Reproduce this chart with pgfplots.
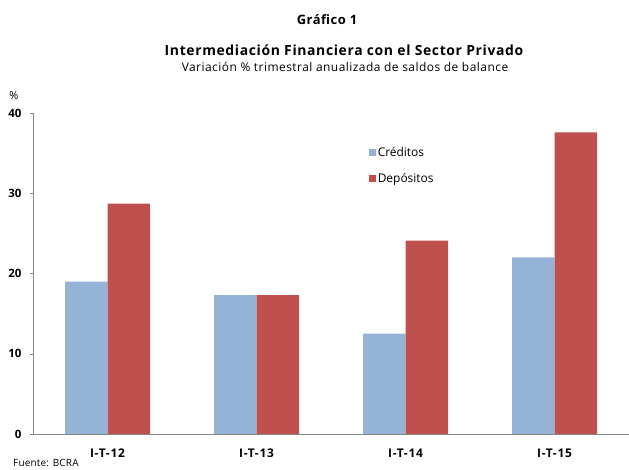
\documentclass[border=0pt]{standalone}
\usepackage{fontspec}
\setmainfont{Open Sans}
\newfontfamily\wideA[LetterSpace=4.5]{Open Sans}
\newfontfamily\wideB[LetterSpace=4]{Open Sans}
\newfontfamily\wideC[LetterSpace=6]{Open Sans}
\newfontfamily\wideD[LetterSpace=2]{Open Sans}
\usepackage{pgfplots}
\pgfplotsset{compat=1.18}
\definecolor{cred}{HTML}{95B3D7}
\definecolor{dep}{HTML}{C0504D}
\definecolor{axgray}{HTML}{868686}
\begin{document}
\begin{tikzpicture}[x=1bp,y=1bp]
\useasboundingbox (0,0) rectangle (629,470);
\begin{axis}[
  at={(33bp,36bp)}, anchor=south west,
  scale only axis, width=596bp, height=321bp,
  ybar=0pt, bar width=42.5bp,
  xmin=-0.5, xmax=3.5, ymin=0, ymax=40,
  xtick={0,1,2,3}, xticklabels={I-T-12,I-T-13,I-T-14,I-T-15},
  x tick label style={font=\wideC\fontsize{12}{13}\selectfont\bfseries, yshift=-8bp},
  major x tick style={draw=none},
  extra x ticks={0.5,1.5,2.5}, extra x tick labels={},
  extra x tick style={tick align=inside, major tick length=3bp, major tick style={draw=axgray, thin}},
  ytick={0,10,20,30,40},
  y tick label style={font=\fontsize{11.5}{12}\selectfont\bfseries, xshift=-5bp},
  /pgf/number format/assume math mode=true,
  yticklabel={\bfseries\pgfmathprintnumber{\tick}},
  axis x line*=bottom, axis y line*=left,
  axis line style={draw=axgray, -},
  y tick style={draw=axgray, thin}, tick align=outside, major tick length=3bp,
  legend style={draw=none, fill=none, at={(0.558,0.905)}, anchor=north west,
    font=\fontsize{12}{13}\selectfont, row sep=11bp, cells={anchor=west}},
  legend image code/.code={\fill[#1,draw=none] (0bp,-3.5bp) rectangle (7bp,3.5bp);},
  clip=false,
]
\addplot[fill=cred, draw=none] coordinates {(0,19.0) (1,17.3) (2,12.5) (3,22.0)};
\addplot[fill=dep, draw=none] coordinates {(0,28.7) (1,17.3) (2,24.1) (3,37.6)};
\legend{Créditos,Depósitos}
\end{axis}
\node[font=\wideB\fontsize{13}{14}\selectfont\bfseries] at (327,450) {Gráfico 1};
\node[font=\wideA\fontsize{14}{15}\selectfont\bfseries] at (344,420) {Intermediación Financiera con el Sector Privado};
\node[font=\wideB\fontsize{12}{13}\selectfont] at (345,403) {Variación \% trimestral anualizada de saldos de balance};
\node[font=\fontsize{11}{12}\selectfont] at (14,374) {\%};
\node[font=\wideD\fontsize{10}{12}\selectfont, anchor=base west, inner sep=0pt] at (13,3) {Fuente: BCRA};
\end{tikzpicture}
\end{document}
